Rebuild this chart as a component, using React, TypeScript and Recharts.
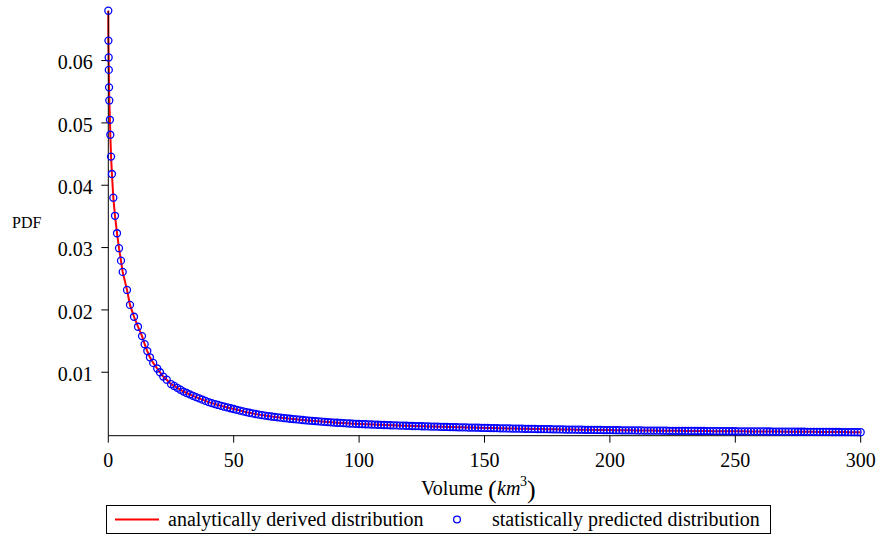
import React from "react";
import { ComposedChart, Line, Scatter, XAxis, YAxis, Legend } from "recharts";

const FONT = '"Liberation Serif", "Times New Roman", Times, serif';

// Volume (km^3) of the early, densely sampled points
const volumeHead = [
  0, 0.05, 0.15, 0.2, 0.3, 0.4, 0.65, 0.8, 1.1, 1.45,
  2.0, 2.67, 3.47, 4.27, 5.06, 5.74, 7.46, 8.65, 10.25, 11.84,
  13.44, 14.5, 15.55, 16.6, 17.9, 19.5, 20.6, 21.9, 23.3,
];
const pdfHead = [
  0.068, 0.0632, 0.0605, 0.0585, 0.0557, 0.0536, 0.0505, 0.0481, 0.0446, 0.0418,
  0.038, 0.0351, 0.0323, 0.0299, 0.0279, 0.0261, 0.0232, 0.0208, 0.0189, 0.0173,
  0.0158, 0.0145, 0.0134, 0.0124, 0.0115, 0.0106, 0.01, 0.0093, 0.0088,
];

// Volume (km^3) of the tail points
const volumeTail = [
  25, 26.25, 27.5, 28.75, 30, 31.25, 32.5, 33.75,
  35, 36.25, 37.5, 38.75, 40, 41.25, 42.5, 43.75,
  45, 46.25, 47.5, 48.75, 50, 51.25, 52.5, 53.75,
  55, 56.25, 57.5, 58.75, 60, 61.25, 62.5, 63.75,
  65, 66.25, 67.5, 68.75, 70, 71.25, 72.5, 73.75,
  75, 76.25, 77.5, 78.75, 80, 81.25, 82.5, 83.75,
  85, 86.25, 87.5, 88.75, 90, 91.25, 92.5, 93.75,
  95, 96.25, 97.5, 98.75, 100, 101.25, 102.5, 103.75,
  105, 106.25, 107.5, 108.75, 110, 111.25, 112.5, 113.75,
  115, 116.25, 117.5, 118.75, 120, 121.25, 122.5, 123.75,
  125, 126.25, 127.5, 128.75, 130, 131.25, 132.5, 133.75,
  135, 136.25, 137.5, 138.75, 140, 141.25, 142.5, 143.75,
  145, 146.25, 147.5, 148.75, 150, 151.25, 152.5, 153.75,
  155, 156.25, 157.5, 158.75, 160, 161.25, 162.5, 163.75,
  165, 166.25, 167.5, 168.75, 170, 171.25, 172.5, 173.75,
  175, 176.25, 177.5, 178.75, 180, 181.25, 182.5, 183.75,
  185, 186.25, 187.5, 188.75, 190, 191.25, 192.5, 193.75,
  195, 196.25, 197.5, 198.75, 200, 201.25, 202.5, 203.75,
  205, 206.25, 207.5, 208.75, 210, 211.25, 212.5, 213.75,
  215, 216.25, 217.5, 218.75, 220, 221.25, 222.5, 223.75,
  225, 226.25, 227.5, 228.75, 230, 231.25, 232.5, 233.75,
  235, 236.25, 237.5, 238.75, 240, 241.25, 242.5, 243.75,
  245, 246.25, 247.5, 248.75, 250, 251.25, 252.5, 253.75,
  255, 256.25, 257.5, 258.75, 260, 261.25, 262.5, 263.75,
  265, 266.25, 267.5, 268.75, 270, 271.25, 272.5, 273.75,
  275, 276.25, 277.5, 278.75, 280, 281.25, 282.5, 283.75,
  285, 286.25, 287.5, 288.75, 290, 291.25, 292.5, 293.75,
  295, 296.25, 297.5, 298.75, 300,
];
const pdfTail = [
  0.0081, 0.0078, 0.0075, 0.0072, 0.0069, 0.00667, 0.00645, 0.00622,
  0.006, 0.0058, 0.0056, 0.0054, 0.0052, 0.00505, 0.0049, 0.00475,
  0.0046, 0.00447, 0.00435, 0.00422, 0.0041, 0.00397, 0.00385, 0.00372,
  0.0036, 0.0035, 0.0034, 0.0033, 0.0032, 0.00312, 0.00305, 0.00297,
  0.0029, 0.00284, 0.00277, 0.00271, 0.00265, 0.0026, 0.00254, 0.00249,
  0.00244, 0.00239, 0.00234, 0.00229, 0.00225, 0.00221, 0.00217, 0.00213,
  0.00209, 0.00205, 0.00201, 0.00197, 0.00193, 0.0019, 0.00187, 0.00184,
  0.00181, 0.00178, 0.00175, 0.00172, 0.0017, 0.00168, 0.00166, 0.00164,
  0.00162, 0.0016, 0.00158, 0.00156, 0.00154, 0.00152, 0.0015, 0.00149,
  0.00147, 0.00145, 0.00143, 0.00142, 0.0014, 0.00138, 0.00137, 0.00135,
  0.00134, 0.00132, 0.00131, 0.00129, 0.00128, 0.00127, 0.00125, 0.00124,
  0.00122, 0.00121, 0.0012, 0.00118, 0.00117, 0.00116, 0.00115, 0.00113,
  0.00112, 0.00111, 0.0011, 0.00108, 0.00107, 0.00106, 0.00105, 0.00104,
  0.00103, 0.00101, 0.001, 0.00099, 0.00098, 0.00097, 0.00096, 0.00095,
  0.00094, 0.00093, 0.00092, 0.00091, 0.0009, 0.00089, 0.00088, 0.00087,
  0.00087, 0.00086, 0.00085, 0.00084, 0.00083, 0.00082, 0.00081, 0.00081,
  0.0008, 0.00079, 0.00078, 0.00078, 0.00077, 0.00076, 0.00076, 0.00075,
  0.00074, 0.00074, 0.00073, 0.00072, 0.00072, 0.00071, 0.0007, 0.0007,
  0.00069, 0.00069, 0.00068, 0.00068, 0.00067, 0.00066, 0.00066, 0.00065,
  0.00065, 0.00064, 0.00064, 0.00063, 0.00063, 0.00062, 0.00062, 0.00061,
  0.00061, 0.0006, 0.0006, 0.0006, 0.00059, 0.00059, 0.00058, 0.00058,
  0.00057, 0.00057, 0.00057, 0.00056, 0.00056, 0.00055, 0.00055, 0.00055,
  0.00054, 0.00054, 0.00054, 0.00053, 0.00053, 0.00052, 0.00052, 0.00052,
  0.00051, 0.00051, 0.00051, 0.0005, 0.0005, 0.0005, 0.00049, 0.00049,
  0.00048, 0.00048, 0.00048, 0.00047, 0.00047, 0.00047, 0.00046, 0.00046,
  0.00045, 0.00045, 0.00045, 0.00044, 0.00044, 0.00044, 0.00043, 0.00043,
  0.00042, 0.00042, 0.00042, 0.00041, 0.00041, 0.00041, 0.0004, 0.0004,
  0.00039, 0.00039, 0.00039, 0.00038, 0.00038,
];

const volumes = [...volumeHead, ...volumeTail];
const analyticPdf = [...pdfHead, ...pdfTail];
const statisticalPdf = [...pdfHead, ...pdfTail];

const xTicks = [0, 50, 100, 150, 200, 250, 300];
const yTicks = [0.01, 0.02, 0.03, 0.04, 0.05, 0.06];

const seriesNames = ["analytically derived distribution", "statistically predicted distribution"];

const data = volumes.map((v, i) => ({
  volume: v,
  analytic: analyticPdf[i],
  statistical: statisticalPdf[i],
}));

const XTick = (props: any) => {
  const { x, y, payload } = props;
  return (
    <text x={x} y={y} dy={14} textAnchor="middle" fontFamily={FONT} fontSize={20} fill="#000">
      {payload.value}
    </text>
  );
};

const YTick = (props: any) => {
  const { x, y, payload } = props;
  return (
    <text x={x} y={y} dy={8.7} textAnchor="end" fontFamily={FONT} fontSize={20} fill="#000">
      {Number(payload.value).toFixed(2)}
    </text>
  );
};

const XLabel = () => (
  <g fontFamily={FONT} fill="#000">
    <text x={421} y={495} fontSize={20}>Volume</text>
    <text x={488} y={498} fontSize={26}>(</text>
    <text x={497} y={495} fontSize={20} fontStyle="italic">km</text>
    <text x={520} y={486} fontSize={14}>3</text>
    <text x={527} y={498} fontSize={26}>)</text>
  </g>
);

const YLabel = () => (
  <text x={12} y={228} fontFamily={FONT} fontSize={16} fill="#000">
    PDF
  </text>
);

const LegendBox = () => (
  <svg width={666} height={30} style={{ display: "block" }}>
    <rect x={0.5} y={0.5} width={664} height={28} fill="#fff" stroke="#000" strokeWidth={1} />
    <line x1={9} y1={14.5} x2={53} y2={14.5} stroke="#ff0000" strokeWidth={2} />
    <text x={62} y={21} fontFamily={FONT} fontSize={20} fill="#000">{seriesNames[0]}</text>
    <circle cx={351} cy={14.5} r={3.4} fill="none" stroke="#0000ff" strokeWidth={1.3} />
    <text x={386} y={21} fontFamily={FONT} fontSize={20} fill="#000">{seriesNames[1]}</text>
  </svg>
);

const Ring = (props: any) => {
  const { cx, cy } = props;
  if (cx == null || cy == null) return null;
  return <circle cx={cx} cy={cy} r={3.5} fill="none" stroke="#0000ff" strokeWidth={1.3} />;
};

export default function App() {
  return (
    <div style={{ position: "absolute", left: 0, top: 0, width: 880, height: 540, background: "#fff" }}>
      <ComposedChart
        width={880}
        height={540}
        data={data}
        margin={{ top: 10.7, right: 19.3, bottom: 64.3, left: 48.3 }}
      >
        <XAxis
          type="number"
          dataKey="volume"
          domain={[0, 300]}
          ticks={xTicks}
          height={40}
          tickSize={7}
          tickMargin={10}
          stroke="#000"
          tick={<XTick />}
          label={<XLabel />}
        />
        <YAxis
          type="number"
          domain={[-0.00018, 0.068]}
          ticks={yTicks}
          width={60}
          tickSize={7}
          tickMargin={8.6}
          stroke="#000"
          tick={<YTick />}
          label={<YLabel />}
        />
        <Line
          type="linear"
          dataKey="analytic"
          name={seriesNames[0]}
          stroke="#ff0000"
          strokeWidth={2}
          dot={false}
          activeDot={false}
          isAnimationActive={false}
        />
        <Scatter
          dataKey="statistical"
          name={seriesNames[1]}
          shape={<Ring />}
          isAnimationActive={false}
        />
        <Legend
          layout="horizontal"
          verticalAlign="middle"
          align="center"
          content={<LegendBox />}
          wrapperStyle={{ position: "absolute", left: 106, top: 505, width: 666, height: 30, bottom: "auto", right: "auto", margin: 0 }}
        />
      </ComposedChart>
    </div>
  );
}
